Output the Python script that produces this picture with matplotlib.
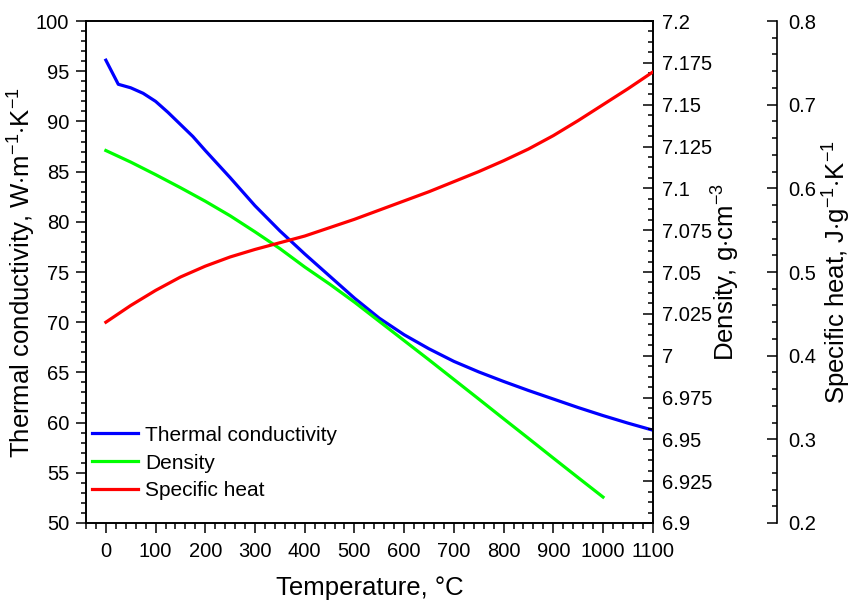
import numpy as np
import matplotlib.pyplot as plt
from matplotlib.ticker import MultipleLocator

plt.rcParams['font.family'] = ['Liberation Sans', 'DejaVu Sans']
plt.rcParams['mathtext.fontset'] = 'custom'
plt.rcParams['mathtext.rm'] = 'Liberation Sans'
plt.rcParams['mathtext.it'] = 'Liberation Sans:italic'
plt.rcParams['axes.linewidth'] = 1.2

# Теплопроводность, Вт/(м·К)
t_k = [0, 25, 50, 75, 100, 125, 150, 175, 200, 250, 300, 350, 400, 450, 500, 550,
       600, 650, 700, 750, 800, 850, 900, 950, 1000, 1050, 1100]
k = [96.1, 93.7, 93.35, 92.8, 92.0, 90.9, 89.7, 88.5, 87.1, 84.4, 81.6, 79.1, 76.8,
     74.6, 72.4, 70.4, 68.75, 67.35, 66.1, 65.05, 64.1, 63.2, 62.35, 61.5,
     60.7, 59.95, 59.25]

# Плотность, г/см3
t_rho = [0, 50, 100, 150, 200, 250, 300, 350, 400, 450, 500, 550, 600, 650,
         700, 750, 800, 850, 900, 950, 1000]
rho = [7.1226, 7.1157, 7.1082, 7.1004, 7.0923, 7.0836, 7.074, 7.064, 7.053,
       7.0428, 7.032, 7.0205, 7.009, 6.9975, 6.9858, 6.9741, 6.9623, 6.9506,
       6.9388, 6.9271, 6.9155]

# Теплоёмкость, Дж/(г·К)
t_cp = [0, 25, 50, 100, 150, 200, 250, 300, 350, 400, 450, 500, 550, 600, 650,
        700, 750, 800, 850, 900, 950, 1000, 1050, 1100]
cp = [0.440, 0.450, 0.460, 0.478, 0.494, 0.507, 0.518, 0.527, 0.535, 0.543,
      0.553, 0.563, 0.574, 0.585, 0.596, 0.608, 0.620, 0.633, 0.647, 0.663,
      0.681, 0.700, 0.719, 0.739]

fs = 14.5
lfs = 18.5

fig = plt.figure(figsize=(8.53, 6.01), dpi=100)
ax = fig.add_axes([0.1008, 0.1298, 0.6644, 0.8352])
ax2 = ax.twinx()
ax3 = ax.twinx()
ax3.spines['right'].set_position(('axes', 1.2193))
for s in ['top', 'left', 'bottom']:
    ax3.spines[s].set_visible(False)

l1, = ax.plot(t_k, k, color='#0000ff', lw=2.3, label='Thermal conductivity')
l2, = ax2.plot(t_rho, rho, color='#00ff00', lw=2.3, label='Density')
l3, = ax3.plot(t_cp, cp, color='#ff0000', lw=2.3, label='Specific heat')

ax.set_xlim(-40, 1100)
ax.set_ylim(50, 100)
ax2.set_ylim(6.9, 7.2)
ax3.set_ylim(0.2, 0.8)

ax.xaxis.set_major_locator(MultipleLocator(100))
ax.xaxis.set_minor_locator(MultipleLocator(20))
ax.yaxis.set_major_locator(MultipleLocator(5))
ax.yaxis.set_minor_locator(MultipleLocator(1))
ax2.yaxis.set_major_locator(MultipleLocator(0.025))
ax2.yaxis.set_minor_locator(MultipleLocator(0.00625))
ax3.yaxis.set_major_locator(MultipleLocator(0.1))
ax3.yaxis.set_minor_locator(MultipleLocator(0.02))

ax.tick_params(axis='x', which='major', direction='out', length=7, width=1.1, labelsize=fs, pad=7, top=False)
ax.tick_params(axis='x', which='minor', direction='out', length=4, width=1.1, top=False)
ax.tick_params(axis='y', which='major', direction='out', length=7, width=1.1, labelsize=fs, pad=5, right=False)
ax.tick_params(axis='y', which='minor', direction='out', length=3.5, width=1.1, right=False)
for a, p in [(ax2, 7), (ax3, 8)]:
    a.tick_params(axis='y', which='major', direction='in', length=7, width=1.1, labelsize=fs, pad=p)
    a.tick_params(axis='y', which='minor', direction='in', length=3.5, width=1.1)

ax2.yaxis.set_major_formatter(plt.FuncFormatter(lambda v, p: ('%.3f' % v).rstrip('0').rstrip('.')))
ax3.yaxis.set_major_formatter(plt.FuncFormatter(lambda v, p: '%.1f' % v))

ax.set_xlabel('Temperature, °C', fontsize=lfs)
ax.xaxis.set_label_coords(0.5, -0.105)
ax.set_ylabel('Thermal conductivity, W$\\cdot$m$^{-1}$$\\cdot$K$^{-1}$', fontsize=lfs)
ax.yaxis.set_label_coords(-0.084, 0.5)
ax2.set_ylabel('Density, g$\\cdot$cm$^{-3}$', fontsize=lfs)
ax2.yaxis.set_label_coords(1.101, 0.5)
ax3.set_ylabel('Specific heat, J$\\cdot$g$^{-1}$$\\cdot$K$^{-1}$', fontsize=lfs)
ax3.yaxis.set_label_coords(1.297, 0.5)

ax.legend(handles=[l1, l2, l3], loc='center left', bbox_to_anchor=(0.0106, 0.1195),
          frameon=False, fontsize=15, borderpad=0, borderaxespad=0,
          handlelength=2.2, handletextpad=0.35, labelspacing=0.42)

fig.savefig('out.png', dpi=100)
